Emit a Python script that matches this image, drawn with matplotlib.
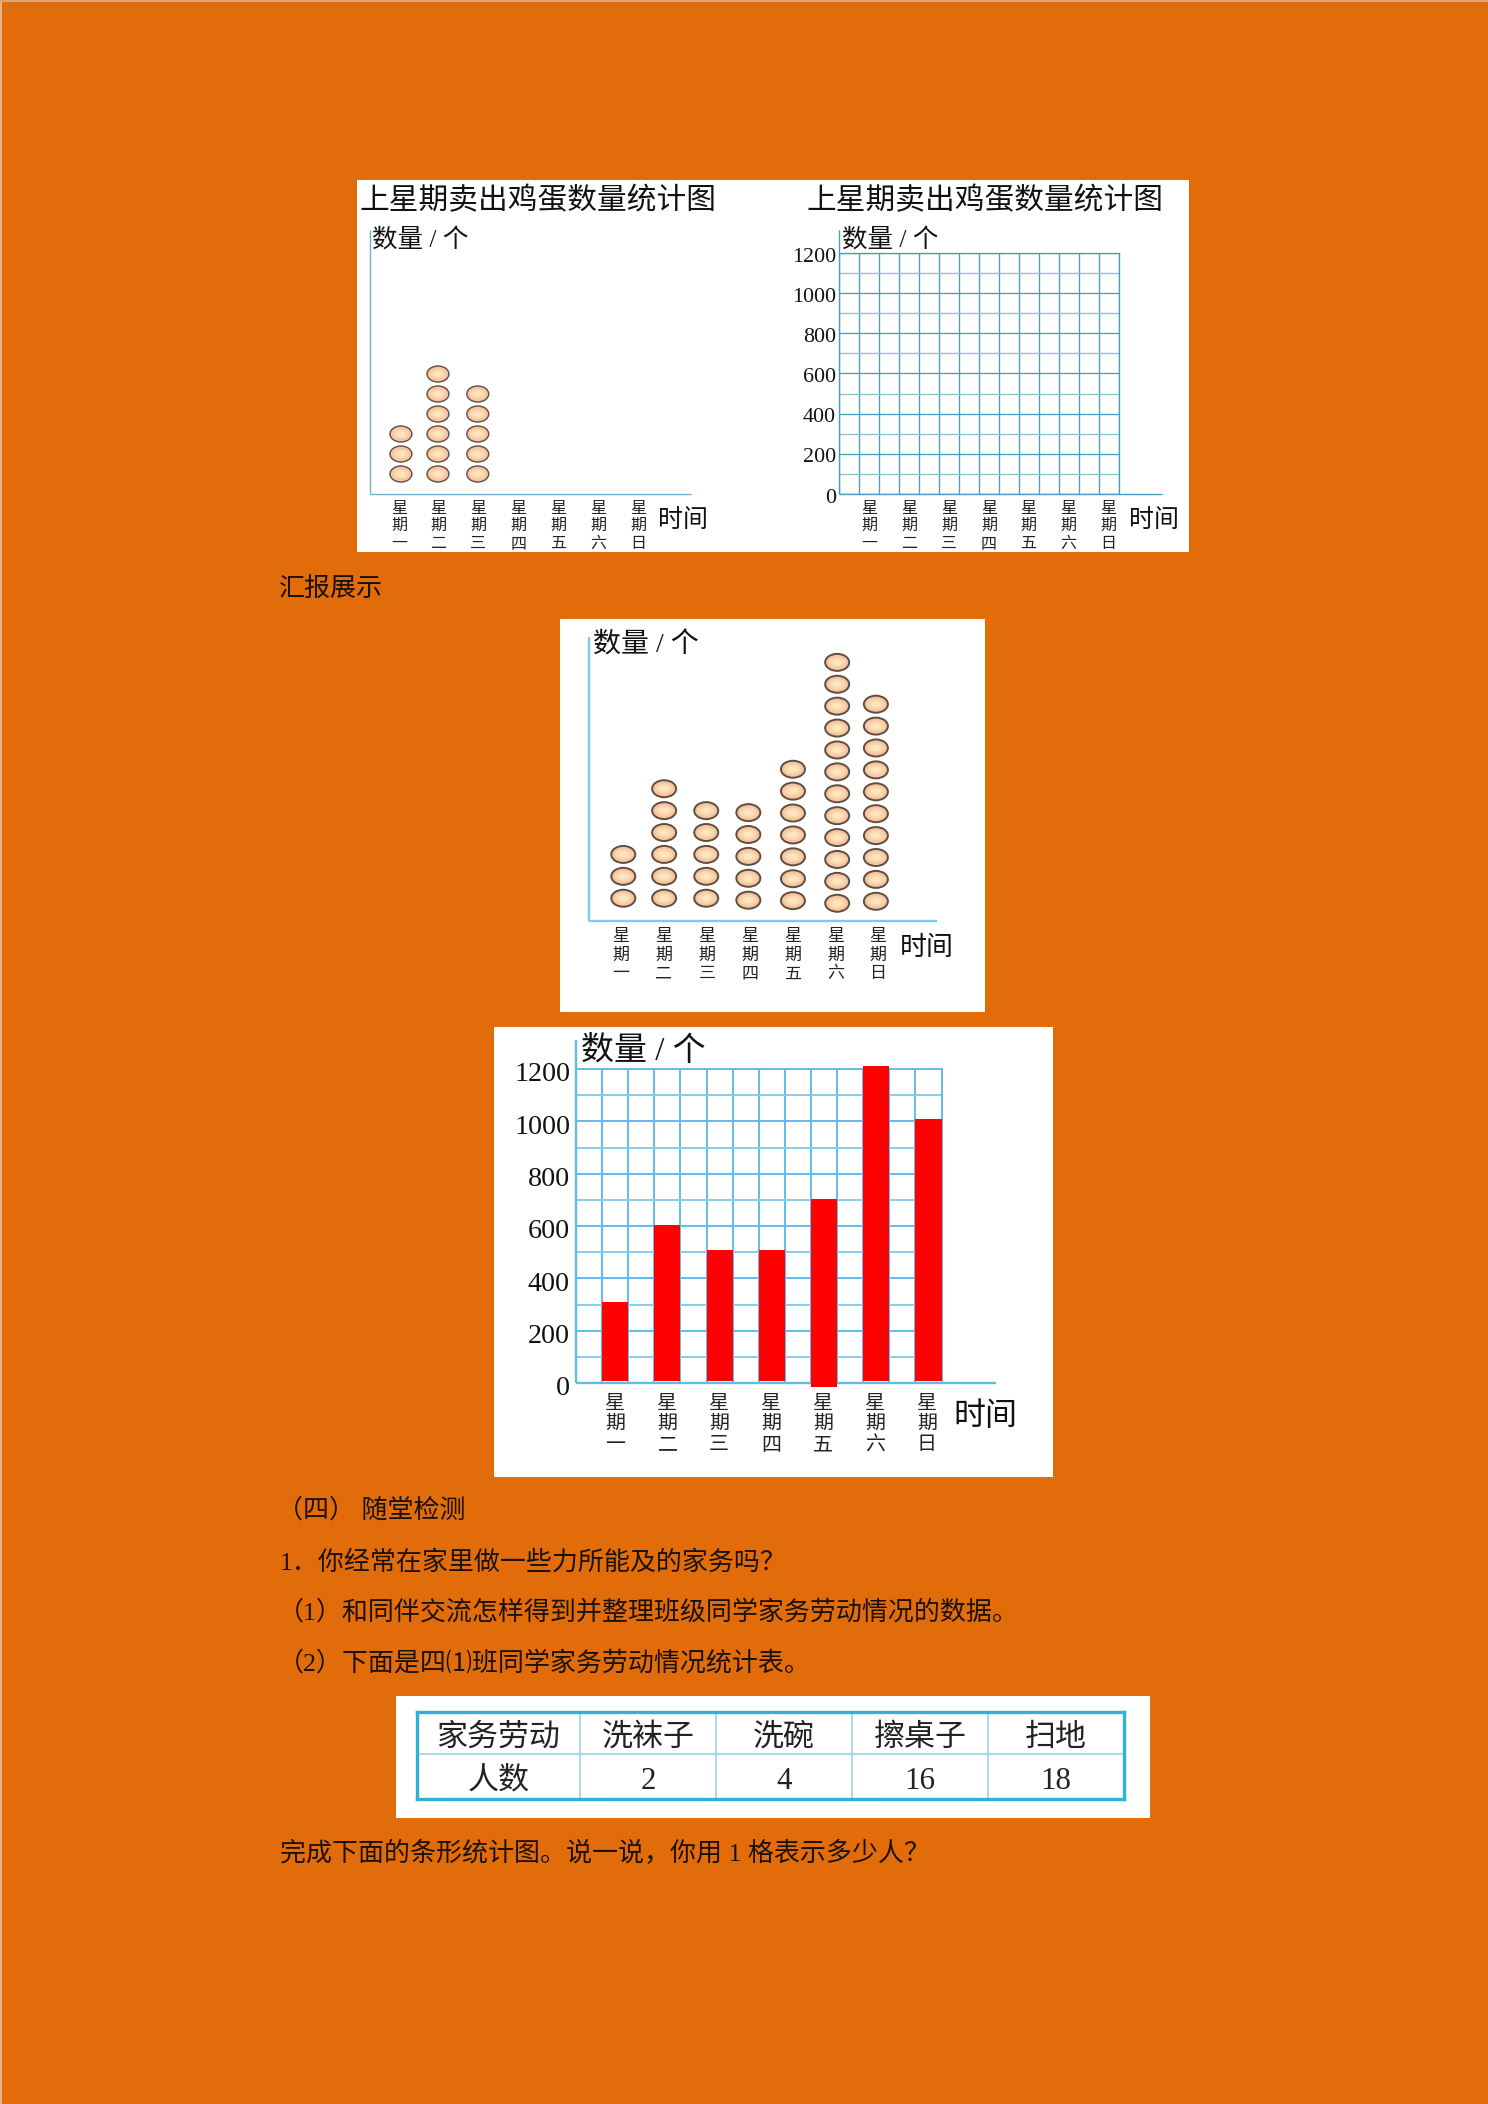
import matplotlib
matplotlib.use("Agg")
import matplotlib.pyplot as plt
from matplotlib.patches import Ellipse, Rectangle
from matplotlib.ticker import MultipleLocator

W, H = 1488, 2104
ORANGE = "#E36C0A"
GRID_DARK = "#4A9CC0"
GRID_LIGHT = "#8DBFD6"
AXIS3 = "#5FBDEB"
AXIS3_LIGHT = "#86CDEF"
FONT = ["Liberation Serif", "Noto Sans CJK SC", "DejaVu Sans"]
plt.rcParams["font.family"] = FONT

# ---------- data ----------
title = "上星期卖出鸡蛋数量统计图"
days = ["星期一", "星期二", "星期三", "星期四", "星期五", "星期六", "星期日"]
y_label = "数量 / 个"
x_label = "时间"
y_ticks = [0, 200, 400, 600, 800, 1000, 1200]
eggs_partial = [3, 6, 5]
eggs_full = [3, 6, 5, 5, 7, 12, 10]
bar_values = [310, 605, 510, 510, 702, 1210, 1008]
bar_bottoms = [6, 6, 6, 6, -14, 6, 6]
table_head = ["家务劳动", "洗袜子", "洗碗", "擦桌子", "扫地"]
table_row = ["人数", "2", "4", "16", "18"]
doc_lines = [
    ("汇报展示", 279, 586),
    ("（四） 随堂检测", 277, 1506),
    ("1．你经常在家里做一些力所能及的家务吗？", 280, 1559),
    ("（1）和同伴交流怎样得到并整理班级同学家务劳动情况的数据。", 278, 1608),
    ("（2）下面是四⑴班同学家务劳动情况统计表。", 278, 1659),
    ("完成下面的条形统计图。说一说，你用 1 格表示多少人？", 280, 1850),
]

fig = plt.figure(figsize=(W / 100, H / 100), dpi=100, facecolor=ORANGE)


def px_axes(x0, y0, x1, y1, **kw):
    """Axes from pixel box (top-left origin)."""
    return fig.add_axes([x0 / W, 1 - y1 / H, (x1 - x0) / W, (y1 - y0) / H], **kw)


def ftext(x, y, s, size_px, ha="center", color="#111111", **kw):
    return fig.text(x / W, 1 - (y + 0.14 * size_px) / H, s, fontsize=size_px * 0.72, ha=ha,
                    va="center", color=color, family=FONT, zorder=20, **kw)


def rect(x0, y0, x1, y1, color, z=-5):
    fig.add_artist(Rectangle((x0 / W, 1 - y1 / H), (x1 - x0) / W, (y1 - y0) / H,
                             transform=fig.transFigure, fc=color, ec="none", zorder=z))


def vertical_days(xs, ys, size):
    for x, d in zip(xs, days):
        for y, ch in zip(ys, d):
            ftext(x, y, ch, size, color="#222222")


def base_axes(box, xlim, ylim, color, lw, top_px, right_px):
    x0, y0, x1, y1 = box
    ax = px_axes(x0, y0, x1, y1)
    ax.patch.set_alpha(0)
    ax.set_xlim(*xlim)
    ax.set_ylim(*ylim)
    for s in ax.spines.values():
        s.set_visible(False)
    ax.tick_params(which="both", length=0, labelbottom=False, labelleft=False)
    sx = (xlim[1] - xlim[0]) / (x1 - x0)
    sy = (ylim[1] - ylim[0]) / (y1 - y0)
    ax.plot([xlim[0], xlim[0] + (right_px - x0) * sx], [ylim[0], ylim[0]],
            color=color, lw=lw, clip_on=False, solid_capstyle="butt", zorder=1)
    ax.plot([xlim[0], xlim[0]], [ylim[0], ylim[0] + (y1 - top_px) * sy],
            color=color, lw=lw, clip_on=False, solid_capstyle="butt", zorder=1)
    return ax


def draw_eggs(ax, counts, w, h, centers=None, offsets=None, lw=1.2):
    for i, n in enumerate(counts):
        cx = centers[i] if centers else i
        off = offsets[i] if offsets else 0
        for k in range(n):
            yy = k + 1 + off
            ax.add_patch(Ellipse((cx, yy), w, h, fc="#F6C4A0", ec="#5F4E40", lw=lw, zorder=3))
            ax.add_patch(Ellipse((cx, yy), w * .72, h * .62, fc="#FAD6AE", ec="none", zorder=4))
            ax.add_patch(Ellipse((cx, yy), w * .42, h * .36, fc="#FDE6BC", ec="none", zorder=5))


def grid_chart(ax, major, minor, lw):
    ax.set_axisbelow(True)
    ax.xaxis.set_major_locator(MultipleLocator(0.5, offset=0.25))
    ax.yaxis.set_major_locator(MultipleLocator(200))
    ax.yaxis.set_minor_locator(MultipleLocator(100))
    ax.grid(True, which="major", color=major, lw=lw, zorder=0)
    ax.grid(True, which="minor", axis="y", color=minor, lw=lw, zorder=0)
    for side in ("right", "top"):
        ax.spines[side].set_visible(True)
        ax.spines[side].set_color(major)
        ax.spines[side].set_linewidth(lw)


# ---------- edge of the page ----------
rect(0, 0, 2, H, "#EDB27C", z=-4)
rect(0, 0, W, 1.5, "#D9A678", z=-4)

# ---------- top pair ----------
rect(357, 180, 1189, 552, "white")
ftext(538, 197, title, 29.7)
ftext(985, 197, title, 29.7)

# left pictograph: one count step is 20 px
ax1 = base_axes((369.5, 230, 691, 494), (-0.74, -0.74 + (691 - 369.5) / 39.8), (0, 13.2),
                "#6FB0CE", 1.0, 230, 691)
draw_eggs(ax1, eggs_partial, 0.55, 0.8, centers=[0.05, 0.98, 1.98], lw=1.0)
ftext(372, 236, y_label, 25.5, ha="left")
vertical_days([399, 438, 478, 518.6, 558, 598, 638], [507, 524, 542], 16)
ftext(683, 517, x_label, 25)

# right empty grid
ax2 = base_axes((839.4, 253, 1119, 494), (-0.75, 6.25), (0, 1200), GRID_DARK, 1.0, 230, 1162)
grid_chart(ax2, GRID_DARK, GRID_LIGHT, 0.95)
for v in y_ticks:
    ftext(836, 494 - v / 1200 * 241 + 1, str(v), 22, ha="right")
ftext(842, 236, y_label, 25.5, ha="left")
vertical_days([869, 909, 949, 989, 1028.6, 1068, 1108], [507, 524, 542], 16)
ftext(1154, 517, x_label, 25)

# ---------- middle pictograph ----------
rect(560, 619, 985, 1012, "white")
egg_centers = [0, 0.97, 1.97, 2.97, 4.03, 5.08, 6.0]
egg_offsets = [0, 0, 0, -0.09, -0.11, -0.23, -0.14]
x_unit = 42.1
ax3 = base_axes((589, 637, 937, 921), (-34.3 / x_unit, (937 - 623.3) / x_unit),
                (-0.04, -0.04 + 284 / 21.9), "#7FCBE6", 1.7, 637, 937)
draw_eggs(ax3, eggs_full, 24 / x_unit, 17 / 21.9, centers=egg_centers, offsets=egg_offsets, lw=1.4)
ftext(593, 642, y_label, 28, ha="left")
vertical_days([621, 664, 707, 750, 793, 836, 878], [935, 953, 972], 17)
ftext(927, 945, x_label, 27)

# ---------- bar chart ----------
rect(494, 1027, 1053, 1477, "white")
ax4 = base_axes((576, 1069, 941.5, 1383), (-0.75, 6.25), (0, 1200), AXIS3, 1.7, 1040, 996)
grid_chart(ax4, AXIS3, AXIS3_LIGHT, 1.4)
ax4.bar(range(len(days)), [v - b for v, b in zip(bar_values, bar_bottoms)], bottom=bar_bottoms,
        width=0.5, color="#FF0000", zorder=3, clip_on=False)
for v in y_ticks:
    ftext(570, 1383 - v / 1200 * 314 + 2, str(v), 28, ha="right")
ftext(581, 1047, y_label, 33, ha="left")
vertical_days([615, 667.4, 719, 771, 823, 875, 927], [1402, 1422, 1443], 20)
ftext(985, 1413, x_label, 32)

# ---------- table ----------
rect(396, 1696, 1150, 1818, "white")
col_edges = [417, 580, 716, 852, 988, 1124]
ax5 = px_axes(417, 1712, 1124, 1799)
ax5.set_xlim(417, 1124)
ax5.set_ylim(1799, 1712)
ax5.set_xticks([])
ax5.set_yticks([])
ax5.patch.set_alpha(0)
for s in ax5.spines.values():
    s.set_color("#2FB2D8")
    s.set_linewidth(2.4)
for x in col_edges[1:-1]:
    ax5.axvline(x, color="#8FD3EA", lw=1.1)
ax5.axhline(1754, color="#8FD3EA", lw=1.1)
for i, (a, b) in enumerate(zip(table_head, table_row)):
    cx = (col_edges[i] + col_edges[i + 1]) / 2
    ftext(cx, 1734, a, 31, color="#222222")
    ftext(cx, 1777, b, 31, color="#222222")

# ---------- document text ----------
for s, x, y in doc_lines:
    ftext(x, y, s, 26, ha="left", color="#1a1208")

fig.savefig("out.png", dpi=100, facecolor=ORANGE)
